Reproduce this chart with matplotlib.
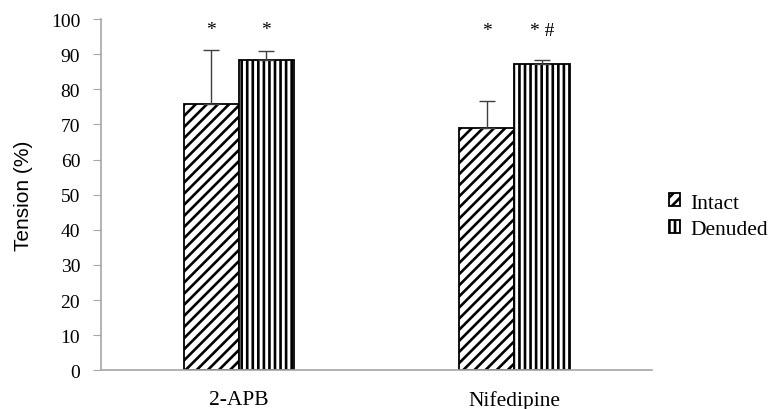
import numpy as np
import matplotlib
matplotlib.use('Agg')
import matplotlib.pyplot as plt

#########################
# data
#########################
groups = ['2-APB', 'Nifedipine']
intact = [75.8, 69.0]
intact_err = [15.5, 7.7]
denuded = [88.3, 87.1]
denuded_err = [2.5, 1.2]
marks_intact = ['*', '*']
marks_denuded = ['*', '* #']

img_out_plot = 'out.png'
#########################

plt.rcParams['hatch.linewidth'] = 1.9
plt.rcParams['hatch.color'] = 'black'
serif = 'Liberation Serif'
gray = '#a6a6a6'


def plot_tension():
	fig = plt.figure(figsize=(7.71, 4.10), dpi=100)
	ax = fig.add_axes([0.131, 0.0944, 0.715, 0.8568])
	x = np.arange(len(groups))
	w = 0.2

	ax.bar(x - w / 2, intact, w, color='white', edgecolor='black', linewidth=1.3,
		hatch='///', label='Intact', zorder=2)
	ax.bar(x + w / 2, denuded, w, color='white', edgecolor='black', linewidth=1.3,
		hatch='|||', label='Denuded', zorder=2)

	# error bars only upward
	ax.errorbar(x - w / 2, intact, yerr=[np.zeros(len(intact)), intact_err], fmt='none',
		ecolor='#404040', elinewidth=1, capsize=5.5, capthick=1, zorder=3)
	ax.errorbar(x + w / 2, denuded, yerr=[np.zeros(len(denuded)), denuded_err], fmt='none',
		ecolor='#404040', elinewidth=1, capsize=5.5, capthick=1, zorder=3)

	star_y = [97.0, 96.6]
	for i in range(len(groups)):
		ax.text(x[i] - w / 2, star_y[i], marks_intact[i], ha='center', va='center',
			fontsize=14, family=serif)
		ax.text(x[i] + w / 2, star_y[i], marks_denuded[i], ha='center', va='center',
			fontsize=14, family=serif)

	ax.set_xlim(-0.5, 1.5)
	ax.set_ylim(0, 100)
	ax.set_yticks(range(0, 101, 10))
	ax.set_xticks(x)
	ax.set_xticklabels(groups, family=serif, fontsize=15.5)
	for lab in ax.get_yticklabels():
		lab.set_family(serif)
		lab.set_fontsize(14)
	ax.tick_params(axis='x', length=0, pad=14)
	ax.tick_params(axis='y', length=6, color=gray, pad=9)
	for s in ['top', 'right']:
		ax.spines[s].set_visible(False)
	for s in ['left', 'bottom']:
		ax.spines[s].set_color(gray)
		ax.spines[s].set_linewidth(1.2)

	ax.set_ylabel('Tension (%)', family='Liberation Sans', fontsize=15, labelpad=13)

	fig.legend(loc='center left', bbox_to_anchor=(0.842, 0.47), frameon=False,
		prop={'family': serif, 'size': 15.5}, handlelength=0.55, handleheight=0.55,
		handletextpad=0.45, labelspacing=0.35)

	fig.savefig(img_out_plot, dpi=100)


plot_tension()
